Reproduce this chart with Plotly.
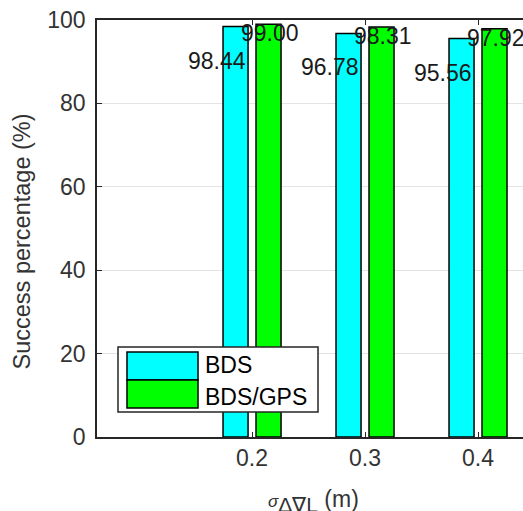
import plotly.graph_objects as go

categories = [0.2, 0.3, 0.4]
tick_labels = ["0.2", "0.3", "0.4"]
bds = [98.44, 96.78, 95.56]
bds_gps = [99.00, 98.31, 97.92]
series_names = ["BDS", "BDS/GPS"]
y_ticks = [0, 20, 40, 60, 80, 100]

CYAN = "#00FFFF"
GREEN = "#00FF00"
AX = "#262626"
FONT = "Liberation Sans, Arial, sans-serif"

fig = go.Figure()
fig.add_trace(go.Bar(x=categories, y=bds, name=series_names[0],
                     marker=dict(color=CYAN, line=dict(color="#000000", width=1.5)),
                     showlegend=False))
fig.add_trace(go.Bar(x=categories, y=bds_gps, name=series_names[1],
                     marker=dict(color=GREEN, line=dict(color="#000000", width=1.5)),
                     showlegend=False))

# value labels
for c, v in zip(categories, bds):
    fig.add_annotation(x=c - 0.031, y=v, text=f"{v:.2f}", showarrow=False,
                       yshift=-34, xanchor="center", yanchor="middle",
                       font=dict(size=23, color="#1a1a1a", family=FONT))
for c, v in zip(categories, bds_gps):
    fig.add_annotation(x=c + 0.0155, y=v, text=f"{v:.2f}", showarrow=False,
                       yshift=-9, xanchor="center", yanchor="middle",
                       font=dict(size=23, color="#1a1a1a", family=FONT))

# custom legend (paper coords)
fig.add_shape(type="rect", xref="paper", yref="paper", x0=0.0493, x1=0.5188, y0=0.06, y1=0.2158,
              fillcolor="white", line=dict(color=AX, width=1.5), layer="above")
fig.add_shape(type="rect", xref="paper", yref="paper", x0=0.0704, x1=0.2371, y0=0.1367, y1=0.2038,
              fillcolor=CYAN, line=dict(color="#000000", width=1.5), layer="above")
fig.add_shape(type="rect", xref="paper", yref="paper", x0=0.0704, x1=0.2371, y0=0.0695, y1=0.1367,
              fillcolor=GREEN, line=dict(color="#000000", width=1.5), layer="above")
for name, yy in zip(series_names, [0.1727, 0.0959]):
    fig.add_annotation(xref="paper", yref="paper", x=0.2488, y=yy, text=name, showarrow=False,
                       xanchor="left", yanchor="middle",
                       font=dict(size=23, color="#000000", family=FONT))

# x-axis title as annotation (partly cut at the bottom like the reference)
fig.add_annotation(xref="paper", yref="paper", x=0.397, y=-0.112, showarrow=False,
                   xanchor="left", yanchor="top",
                   text="<span style='font-size:17px'><i>σ</i></span><sub><span style='font-size:21px'>Δ∇L</span></sub> (m)",
                   font=dict(size=23, color="#333333", family=FONT))

# y-axis title as annotation
fig.add_annotation(xref="paper", yref="paper", x=-0.175, y=0.470, showarrow=False,
                   xanchor="center", yanchor="middle", textangle=-90,
                   text="Success percentage (%)",
                   font=dict(size=23.5, color="#333333", family=FONT))

fig.update_layout(
    width=523, height=511,
    margin=dict(l=97, r=0, t=20, b=74),
    paper_bgcolor="white", plot_bgcolor="white",
    barmode="group", bargap=0.416, bargroupgap=0.242,
    font=dict(family=FONT, color=AX, size=23),
    showlegend=False,
)
fig.update_xaxes(
    range=[0.0628, 0.4398], tickvals=categories, ticktext=tick_labels,
    ticks="inside", ticklen=5, tickcolor=AX, tickwidth=1,
    showline=True, linecolor=AX, linewidth=1.5, mirror="ticks",
    showgrid=False, zeroline=False,
    tickfont=dict(size=23, color="#333333"),
)
fig.update_yaxes(
    range=[0, 100], tickvals=y_ticks,
    ticks="inside", ticklen=5, tickcolor=AX, tickwidth=1,
    showline=True, linecolor=AX, linewidth=1.5, mirror=False,
    showgrid=True, gridcolor="#e3e3e3", gridwidth=1, zeroline=False,
    tickfont=dict(size=23, color="#333333"), ticklabelstandoff=5,
)

fig.write_html("out.html")
